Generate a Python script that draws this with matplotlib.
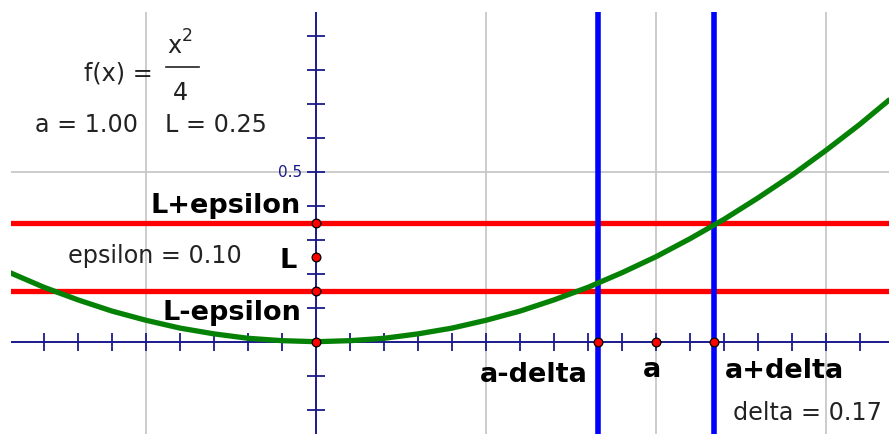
import matplotlib
matplotlib.use("Agg")
import matplotlib.pyplot as plt
import numpy as np

# ---- data ----
a_val = 1.00
L_val = 0.25
epsilon = 0.10
delta = 0.17

curve_x = [-0.9, -0.8, -0.7, -0.6, -0.5, -0.4, -0.3, -0.2, -0.1, 0.0,
           0.1, 0.2, 0.3, 0.4, 0.5, 0.6, 0.7, 0.8, 0.9, 1.0,
           1.1, 1.2, 1.3, 1.4, 1.5, 1.6, 1.7]
curve_y = [0.203, 0.160, 0.123, 0.090, 0.063, 0.040, 0.023, 0.010, 0.003, 0.000,
           0.003, 0.010, 0.023, 0.040, 0.063, 0.090, 0.123, 0.160, 0.203, 0.250,
           0.303, 0.360, 0.423, 0.490, 0.563, 0.640, 0.723]

x_ticks = [-0.8, -0.7, -0.6, -0.5, -0.4, -0.3, -0.2, -0.1,
           0.1, 0.2, 0.3, 0.4, 0.5, 0.6, 0.7, 0.8, 0.9, 1.0,
           1.1, 1.2, 1.3, 1.4, 1.5, 1.6]
y_ticks = [-0.2, -0.1, 0.1, 0.2, 0.3, 0.4, 0.5, 0.6, 0.7, 0.8, 0.9]
grid_x = [-0.5, 0.5, 1.0, 1.5]
grid_y = [0.5]
y_tick_label = "0.5"

W, H = 889, 434
fig = plt.figure(figsize=(W / 100, H / 100), dpi=100)
fig.patch.set_facecolor("white")

# axes area in pixels: x 11..889, y 12..434
ax = fig.add_axes([11 / W, 0, 878 / W, 422 / H])
ax.set_xlim(-0.897, 1.685)
ax.set_ylim(-0.2715, 0.9697)
ax.axis("off")

grid_c = "#c4c4c4"
axis_c = "#1a1a8c"

for gx in grid_x:
    ax.axvline(gx, color=grid_c, lw=1.2, zorder=1)
for gy in grid_y:
    ax.axhline(gy, color=grid_c, lw=1.2, zorder=1)

# epsilon band lines
ax.axhline(L_val + epsilon, color="#ff0000", lw=3.8, zorder=3)
ax.axhline(L_val - epsilon, color="#ff0000", lw=3.8, zorder=3)

# axes lines + ticks
ax.axhline(0, color=axis_c, lw=1.4, zorder=4)
ax.axvline(0, color=axis_c, lw=1.4, zorder=4)
ax.plot(x_ticks, [0] * len(x_ticks), ls="none", marker="|", ms=12.5,
        mew=1.3, color=axis_c, zorder=4)
ax.plot([0] * len(y_ticks), y_ticks, ls="none", marker="_", ms=13,
        mew=1.3, color=axis_c, zorder=4)

# delta lines
ax.axvline(a_val - delta, color="#0000ff", lw=4.0, zorder=5)
ax.axvline(a_val + delta, color="#0000ff", lw=4.0, zorder=5)

# curve
ax.plot(curve_x, curve_y, color="#058205", lw=3.8, zorder=6,
        solid_capstyle="butt")

# points
pts_x = [0, 0, 0, 0, a_val - delta, a_val, a_val + delta]
pts_y = [0, L_val - epsilon, L_val, L_val + epsilon, 0, 0, 0]
ax.plot(pts_x, pts_y, ls="none", marker="o", ms=6.3, mfc="#ff0000",
        mec="black", mew=0.9, zorder=8)


def ftext(px, py, s, **kw):
    fig.text(px / W, 1 - py / H, s, **kw)


norm = dict(family="DejaVu Sans", fontsize=17.2, color="#222222", va="baseline")
bold = dict(family="DejaVu Sans", fontsize=19.5, weight="bold", color="black",
            va="baseline")

ftext(153, 80, "f(x) =", ha="right", **norm)
ftext(167, 53, "x", ha="left", **norm)
ftext(182, 41, "2", ha="left", family="DejaVu Sans", fontsize=12.5,
      color="#222222", va="baseline")
fig.add_artist(plt.Line2D([166 / W, 199 / W], [1 - 67 / H, 1 - 67 / H],
                          color="#222222", lw=1.2))
ftext(180, 100, "4", ha="center", **norm)
ftext(35, 132, "a = %.2f" % a_val, ha="left", **norm)
ftext(165, 132, "L = %.2f" % L_val, ha="left", **norm)
ftext(68, 263, "epsilon = %.2f" % epsilon, ha="left", **norm)
ftext(733, 420, "delta = %.2f" % delta, ha="left", **norm)

ftext(301, 213, "L+epsilon", ha="right", **bold)
ftext(297, 268, "L", ha="right", **bold)
ftext(301, 320, "L-epsilon", ha="right", **bold)
ftext(588, 382, "a-delta", ha="right", **bold)
ftext(652, 377, "a", ha="center", **bold)
ftext(725, 378, "a+delta", ha="left", **bold)

ftext(302, 177, y_tick_label, ha="right", family="DejaVu Sans", fontsize=11,
      color="#1a1a8c", va="baseline")

fig.savefig("out.png", dpi=100, facecolor="white")
